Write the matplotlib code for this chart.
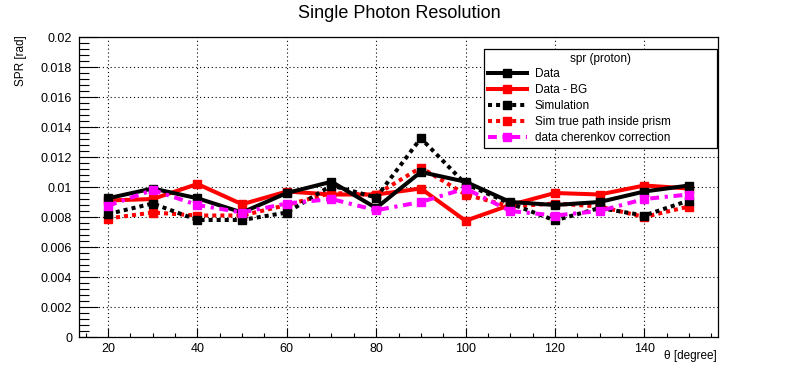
import matplotlib
matplotlib.use("Agg")
import matplotlib.pyplot as plt
from matplotlib.ticker import MultipleLocator

plt.rcParams['font.family'] = ['Liberation Sans', 'DejaVu Sans']

theta = [20, 30, 40, 50, 60, 70, 80, 90, 100, 110, 120, 130, 140, 150]

spr_data = [0.00925, 0.0099, 0.00925, 0.0083, 0.0096, 0.01035, 0.0086,
            0.0110, 0.01035, 0.0090, 0.0088, 0.0090, 0.0097, 0.0101]
spr_data_bg = [0.0091, 0.0092, 0.0102, 0.00885, 0.0097, 0.0095, 0.0095,
               0.0099, 0.00775, 0.0088, 0.0096, 0.0095, 0.0101, 0.0099]
spr_sim = [0.0082, 0.0089, 0.0078, 0.0078, 0.0083, 0.0101, 0.0093,
           0.01325, 0.0102, 0.0089, 0.00777, 0.0086, 0.0081, 0.0091]
spr_sim_true = [0.0079, 0.0083, 0.0081, 0.0081, 0.0088, 0.0096, 0.0095,
                0.0113, 0.0095, 0.0087, 0.0089, 0.0087, 0.0080, 0.0087]
spr_cher = [0.00875, 0.0098, 0.0088, 0.0083, 0.0089, 0.0092, 0.00845,
            0.0090, 0.0099, 0.0084, 0.0081, 0.0084, 0.0092, 0.0095]

labels = ["Data", "Data - BG", "Simulation", "Sim true path inside prism",
          "data cherenkov correction"]

yticks = [0, 0.002, 0.004, 0.006, 0.008, 0.01, 0.012, 0.014, 0.016, 0.018, 0.02]
ytick_labels = ["0", "0.002", "0.004", "0.006", "0.008", "0.01", "0.012",
                "0.014", "0.016", "0.018", "0.02"]
xticks = [20, 40, 60, 80, 100, 120, 140]

fig = plt.figure(figsize=(7.98, 3.74), dpi=100)
ax = fig.add_axes([79/798, 1 - 337/374, (718 - 79)/798, 300/374])

lw = 2.9
ms = 5.8
dot = (0, (1, 1))
dashdot = (0, (2.2, 1.4, 0.8, 1.4))

h_bg, = ax.plot(theta, spr_data_bg, color='red', lw=lw, marker='s', ms=ms)
h_true, = ax.plot(theta, spr_sim_true, color='red', lw=lw, ls=dot, marker='s', ms=ms)
h_sim, = ax.plot(theta, spr_sim, color='black', lw=lw, ls=dot, marker='s', ms=ms)
h_data, = ax.plot(theta, spr_data, color='black', lw=lw, marker='s', ms=ms)
h_cher, = ax.plot(theta, spr_cher, color='magenta', lw=lw, ls=dashdot, marker='s', ms=ms)

ax.set_xlim(13.5, 156.5)
ax.set_ylim(0, 0.02)
ax.set_xticks(xticks)
ax.set_yticks(yticks)
ax.set_yticklabels(ytick_labels)
ax.xaxis.set_minor_locator(MultipleLocator(5))
ax.yaxis.set_minor_locator(MultipleLocator(0.0004))
ax.tick_params(which='both', direction='in', top=False, right=False,
               labelsize=9, width=0.8)
ax.tick_params(axis='y', which='major', length=13.5, pad=5)
ax.tick_params(axis='y', which='minor', length=7)
ax.tick_params(axis='x', which='major', length=6.5, pad=4)
ax.tick_params(axis='x', which='minor', length=3.2)
ax.grid(True, which='major', color='black', ls=(0, (1, 2.5)), lw=0.8)
for sp in ax.spines.values():
    sp.set_linewidth(0.9)

# legend box fixed to the reference position (x 484-717, y 49-143 px)
leg = ax.legend([h_data, h_bg, h_sim, h_true, h_cher], labels,
                title="spr (proton)", loc='upper left', mode='expand',
                bbox_to_anchor=(484/798, 1 - 143/374, 233/798, 94/374),
                bbox_transform=fig.transFigure,
                fontsize=8.5, title_fontsize=8.5, fancybox=False, framealpha=1,
                edgecolor='black', handlelength=3.3, handletextpad=0.7,
                labelspacing=0.33, borderpad=0.3, borderaxespad=0)
leg.get_frame().set_linewidth(0.9)

fig.text(0.501, 1 - 14/374, "Single Photon Resolution", ha='center', va='center',
         fontsize=13)
fig.text(21/798, 1 - 35/374, "SPR [rad]", rotation=90, ha='center', va='top',
         fontsize=8.5)
fig.text(717/798, 1 - 356/374, "θ [degree]", ha='right', va='center', fontsize=8.5)

fig.savefig("out.png", dpi=100)
